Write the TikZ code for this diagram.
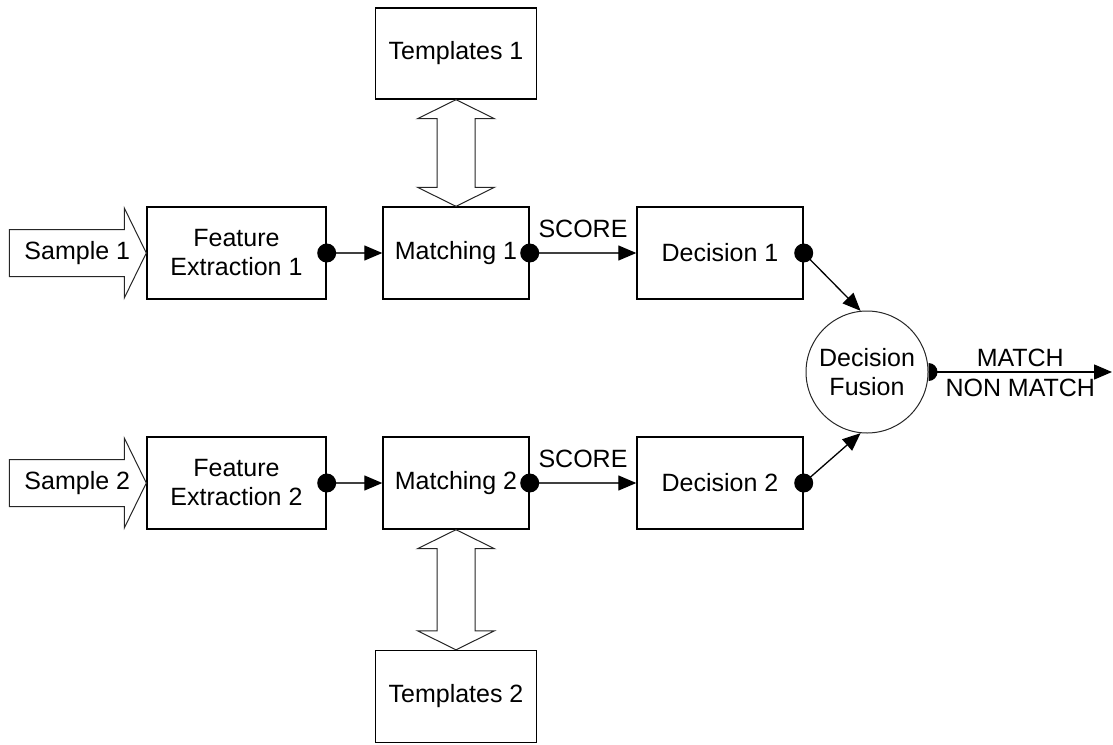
\documentclass[tikz,border=0pt]{standalone}
\usepackage{fontspec}
\setmainfont{Liberation Sans}
\usetikzlibrary{arrows.meta, positioning, calc}

\tikzset{
  blk/.style={draw, line width=1.4pt, align=center, minimum height=92pt, inner sep=2pt},
  link/.style={line width=1.3pt, black!75, text=black, -{Triangle[length=18pt,width=15pt,color=black]}},
  hollow/.style={draw=black!85, line width=1pt, fill=white, line join=miter},
}

\begin{document}
\begin{tikzpicture}[x=1pt, y=-1pt, font=\fontsize{25}{29}\selectfont]
\useasboundingbox (0,0) rectangle (1113,744);

% upper branch
\node[blk, minimum width=179pt] (fe1) at (236.5,253) {Feature\\Extraction 1};
\node[blk, minimum width=146pt] (m1) at (456,253) {Matching 1};
\node[blk, minimum width=166pt] (d1) at (720,253) {Decision 1};
\node[blk, minimum width=161pt, minimum height=91pt] (t1) at (456,53.5) {Templates 1};

% lower branch
\node[blk, minimum width=179pt] (fe2) at (236.5,483) {Feature\\Extraction 2};
\node[blk, minimum width=146pt] (m2) at (456,483) {Matching 2};
\node[blk, minimum width=166pt] (d2) at (720,483) {Decision 2};
\node[blk, minimum width=161pt] (t2) at (456,696.5) {Templates 2};

% fusion
\node[circle, draw=black!85, line width=1pt, minimum size=122pt, inner sep=0pt, align=center] (fus) at (867,372) {Decision\\Fusion};
\coordinate (out) at (1112,372);

% sample inputs
\foreach \n in {fe1, fe2} {
    \draw[hollow] (\n.west) -- ++(-22,-45) -- ++(0,21.5) -- ++(-115,0)
        -- ++(0,47) -- ++(115,0) -- ++(0,21.5) -- cycle;
}
\node (smp1) at ($(fe1.west)+(-69,0)$) {Sample 1};
\node (smp2) at ($(fe2.west)+(-69,0)$) {Sample 2};

% template exchange
\foreach \a/\b in {t1.south/m1.north, m2.south/t2.north} {
    \draw[hollow] (\a) -- ($(\a)+(38.5,19)$) -- ($(\a)+(19,19)$) -- ($(\b)+(19,-19)$)
        -- ($(\b)+(38.5,-19)$) -- (\b) -- ($(\b)+(-38.5,-19)$) -- ($(\b)+(-19,-19)$)
        -- ($(\a)+(-19,19)$) -- ($(\a)+(-38.5,19)$) -- cycle;
}

% connections
\draw[link] (fe1.east) -- (m1.west);
\draw[link] (m1.east) -- (d1.west) node[midway, above=11pt] {SCORE};
\draw[link] (fe2.east) -- (m2.west);
\draw[link] (m2.east) -- (d2.west) node[midway, above=11pt] {SCORE};
\draw[link, black] (d1.east) -- (fus.96);
\draw[link, black] (d2.east) -- (fus.264);
\draw[link, black] (fus.east) -- (out)
    node[midway, above=1.7pt] {MATCH}
    node[midway, below=2.7pt] {NON MATCH};

% output dots
\foreach \n in {fe1, m1, d1, fe2, m2, d2}
    \fill (\n.east) circle (9.5pt);
\fill (fus.east) ++(0,-9) arc[start angle=90, end angle=-90, radius=9pt] -- cycle;
\end{tikzpicture}
\end{document}
